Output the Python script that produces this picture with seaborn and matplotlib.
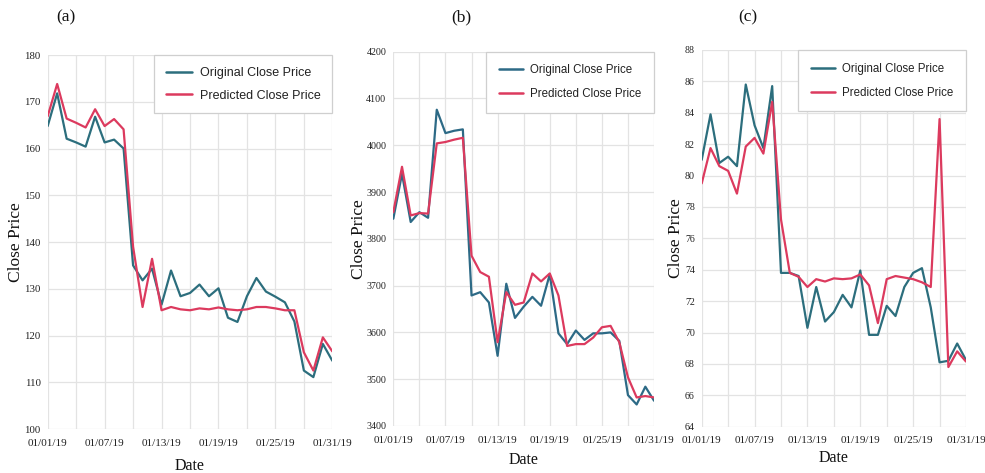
import numpy as np
import pandas as pd
import matplotlib
matplotlib.use("Agg")
import matplotlib.pyplot as plt
from matplotlib.ticker import MultipleLocator, FixedLocator
import seaborn as sns

# ---------------- data ----------------
days = list(range(31))  # 01/01/19 .. 01/31/19
tick_days = [0, 6, 12, 18, 24, 30]
tick_labels = ["01/01/19", "01/07/19", "01/13/19", "01/19/19", "01/25/19", "01/31/19"]

a_orig = [164.8, 171.8, 162.1, 161.3, 160.4, 166.8, 161.3, 161.9, 160.0, 135.0,
          131.8, 134.3, 126.6, 133.9, 128.4, 129.1, 130.9, 128.4, 130.1, 123.8,
          122.9, 128.4, 132.3, 129.4, 128.3, 127.1, 123.0, 112.5, 111.1, 118.2, 114.6]
a_pred = [166.9, 173.8, 166.4, 165.5, 164.5, 168.4, 164.8, 166.3, 164.1, 139.0,
          126.1, 136.4, 125.4, 126.1, 125.6, 125.4, 125.8, 125.6, 126.0, 125.6,
          125.4, 125.6, 126.1, 126.1, 125.8, 125.4, 125.4, 116.4, 112.5, 119.6, 116.6]

b_orig = [3843, 3939, 3836, 3857, 3845, 4076, 4026, 4031, 4034, 3679,
          3686, 3664, 3550, 3704, 3631, 3655, 3676, 3657, 3724, 3598,
          3575, 3604, 3584, 3598, 3598, 3600, 3582, 3466, 3446, 3484, 3454]
b_pred = [3857, 3954, 3850, 3855, 3854, 4004, 4007, 4012, 4016, 3764,
          3729, 3719, 3579, 3686, 3659, 3664, 3726, 3709, 3726, 3679,
          3571, 3575, 3575, 3589, 3611, 3614, 3579, 3504, 3461, 3464, 3461]

c_orig = [81.0, 83.9, 80.8, 81.2, 80.6, 85.8, 83.2, 81.75, 85.7, 73.8,
          73.8, 73.6, 70.3, 72.9, 70.7, 71.3, 72.4, 71.6, 73.95, 69.85,
          69.85, 71.7, 71.05, 72.9, 73.8, 74.1, 71.6, 68.1, 68.2, 69.3, 68.25]
c_pred = [79.5, 81.75, 80.6, 80.3, 78.85, 81.85, 82.4, 81.4, 84.7, 77.2,
          73.8, 73.55, 72.9, 73.4, 73.25, 73.45, 73.4, 73.45, 73.7, 73.0,
          70.6, 73.4, 73.6, 73.5, 73.4, 73.2, 72.9, 83.6, 67.8, 68.8, 68.15]

series_names = ["Original Close Price", "Predicted Close Price"]
panel_titles = ["(a)", "(b)", "(c)"]

# ---------------- style ----------------
sns.set_style("whitegrid")
plt.rcParams["font.family"] = ["Liberation Serif", "DejaVu Serif"]

TEAL = "#2c6e7d"
RED = "#dc3a5e"
GRID = "#e3e3e3"

fig = plt.figure(figsize=(9.85, 4.73), dpi=100)

panels = [
    dict(orig=a_orig, pred=a_pred, pos=[0.0484, 0.0930, 0.2890, 0.7907],
         ylim=(100, 180), ystep=10, ylab_x=-0.083, date_y=-0.078, ytick_fs=7.8,
         leg_fs=9.0, leg_bp=0.95, leg_ls=0.85, teal=TEAL),
    dict(orig=b_orig, pred=b_pred, pos=[0.3993, 0.0994, 0.2647, 0.7913],
         ylim=(3400, 4200), ystep=100, ylab_x=-0.101, date_y=-0.070, ytick_fs=7.2,
         leg_fs=8.3, leg_bp=1.1, leg_ls=1.05, teal="#2d6a86"),
    dict(orig=c_orig, pred=c_pred, pos=[0.7124, 0.0979, 0.2683, 0.7964],
         ylim=(64, 88), ystep=2, ylab_x=-0.067, date_y=-0.062, ytick_fs=7.2,
         leg_fs=8.3, leg_bp=1.1, leg_ls=1.05, teal=TEAL),
]

for p in panels:
    ax = fig.add_axes(p["pos"])
    df = pd.DataFrame({
        "Date": days * 2,
        "Close Price": p["orig"] + p["pred"],
        "Series": [series_names[0]] * len(days) + [series_names[1]] * len(days),
    })
    sns.lineplot(data=df, x="Date", y="Close Price", hue="Series",
                 palette=[p["teal"], RED], linewidth=1.6, ax=ax)
    ax.set_xlim(0, 30)
    ax.set_ylim(*p["ylim"])
    ax.xaxis.set_major_locator(FixedLocator(tick_days))
    ax.set_xticklabels(tick_labels)
    ax.xaxis.set_minor_locator(MultipleLocator(3))
    ax.yaxis.set_major_locator(MultipleLocator(p["ystep"]))
    ax.grid(True, which="both", axis="x", color=GRID, linewidth=0.9)
    ax.grid(True, which="major", axis="y", color=GRID, linewidth=0.9)
    ax.set_axisbelow(True)
    for s in ax.spines.values():
        s.set_visible(False)
    ax.tick_params(axis="x", which="both", length=0, pad=7, labelsize=8,
                   labelcolor="#222222")
    ax.tick_params(axis="y", length=3, color=GRID, pad=2,
                   labelsize=p["ytick_fs"], labelcolor="#222222")
    ax.set_xlabel("Date", fontsize=11.5, color="#111111")
    ax.xaxis.set_label_coords(0.5, p["date_y"])
    ax.set_ylabel("Close Price", fontsize=12.5, color="#111111")
    ax.yaxis.set_label_coords(p["ylab_x"], 0.5)

    leg = ax.legend(loc="upper right", bbox_to_anchor=(1.0, 1.0), borderaxespad=0,
                    frameon=True, fancybox=False, framealpha=1,
                    edgecolor="#cfcfcf", handlelength=2.1, handletextpad=0.6,
                    borderpad=p["leg_bp"], labelspacing=p["leg_ls"],
                    prop={"family": ["Liberation Sans", "DejaVu Sans"],
                          "size": p["leg_fs"]})
    leg.get_frame().set_linewidth(0.9)
    for t in leg.get_texts():
        t.set_color("#222222")
    for h in leg.get_lines():
        h.set_linewidth(1.8)

title_x = [66 / 985, 461 / 985, 748 / 985]
for t, x in zip(panel_titles, title_x):
    fig.text(x, 1 - 17 / 473, t, ha="center", va="center", fontsize=12.5,
             color="#111111")

fig.savefig("out.png", dpi=100)
